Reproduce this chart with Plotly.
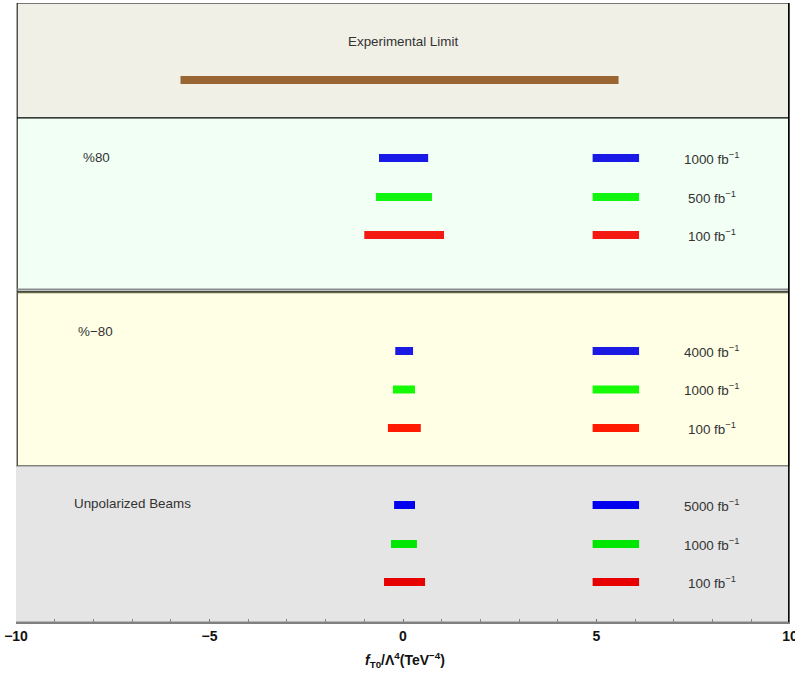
import plotly.graph_objects as go

# ---- data -------------------------------------------------------------
exp_limit = [-5.75, 5.57]

panel_titles = ["%80", "%\u221280", "Unpolarized Beams"]
luminosities = [
    ["1000", "500", "100"],
    ["4000", "1000", "100"],
    ["5000", "1000", "100"],
]
lower = [
    [-0.62, -0.70, -1.00],
    [-0.20, -0.26, -0.39],
    [-0.23, -0.31, -0.49],
]
upper = [
    [0.65, 0.75, 1.06],
    [0.26, 0.31, 0.46],
    [0.31, 0.36, 0.57],
]
legend_span = [4.9, 6.1]
major_ticks = [-10, -5, 0, 5, 10]
major_labels = ["\u221210", "\u22125", "0", "5", "10"]

# ---- styling / layout -------------------------------------------------
panel_colors = [
    ["#1a1ae6", "#11f511", "#f41a12"],
    ["#1a1ae2", "#15fa05", "#ff1a00"],
    ["#0000ee", "#00e600", "#e60000"],
]
band_fill = ["#f1f0e6", "#f2fff4", "#ffffe6", "#e5e5e5"]
bands = [(0, 115), (115, 289), (289, 463), (463, 619)]   # vertical extent (px from top)
row_y = [[155, 194, 232], [348, 386.5, 425], [502, 541, 579]]
title_y = [154, 328, 500]
title_x = [-8.33, -8.45, -8.56]
exp_row, exp_title_row = 77, 38
lum_label_x = 7.98
txt_font = dict(family="Liberation Sans, Arial, sans-serif", size=13.4, color="#333333")
x_right = 9.97

fig = go.Figure()

# background bands
shapes = []
for i, ((y0, y1), fc) in enumerate(zip(bands, band_fill)):
    shapes.append(dict(type="rect", xref="x", yref="y", x0=-10.05 if i == 3 else -9.97,
                       x1=x_right, y0=y0, y1=y1, fillcolor=fc, layer="below",
                       line=dict(color="#888888" if i == 3 else "#000000", width=1)))
# double separator between polarised panels
shapes.append(dict(type="line", xref="x", yref="y", x0=-9.97, x1=x_right, y0=286.5, y1=286.5,
                   line=dict(color="#8a8a8a", width=2)))
shapes.append(dict(type="line", xref="x", yref="y", x0=-9.97, x1=x_right, y0=289.5, y1=289.5,
                   line=dict(color="#66664a", width=1.5)))
shapes.append(dict(type="line", xref="x", yref="y", x0=-10.05, x1=-10.05, y0=463, y1=619,
                   line=dict(color="#999999", width=2)))
shapes.append(dict(type="line", xref="x", yref="y", x0=x_right, x1=x_right, y0=0, y1=619,
                   line=dict(color="#000000", width=1.5)))

# experimental limit
fig.add_trace(go.Scatter(x=exp_limit, y=[exp_row, exp_row], mode="lines",
                         line=dict(color="#996633", width=8), hoverinfo="skip"))
annotations = [dict(x=0, y=exp_title_row, xref="x", yref="y", text="Experimental Limit",
                    showarrow=False, font=txt_font, xanchor="center", yanchor="middle")]

for p in range(3):
    annotations.append(dict(x=title_x[p], y=title_y[p], xref="x", yref="y",
                            text=panel_titles[p], showarrow=False, font=txt_font,
                            xanchor="left", yanchor="middle"))
    for r in range(3):
        c = panel_colors[p][r]
        y = row_y[p][r]
        fig.add_trace(go.Scatter(x=[lower[p][r], upper[p][r]], y=[y, y], mode="lines",
                                 line=dict(color=c, width=8), hoverinfo="skip"))
        fig.add_trace(go.Scatter(x=legend_span, y=[y, y], mode="lines",
                                 line=dict(color=c, width=8), hoverinfo="skip"))
        annotations.append(dict(x=lum_label_x, y=y, xref="x", yref="y",
                                text=f"{luminosities[p][r]} fb<sup>\u22121</sup>",
                                showarrow=False, font=txt_font,
                                xanchor="center", yanchor="middle"))

annotations.append(dict(x=0.05, y=-0.061, xref="x", yref="paper",
                        text="<b><i>f</i><sub>T0</sub>/\u039b<sup>4</sup>(TeV<sup>\u22124</sup>)</b>",
                        showarrow=False, xanchor="center", yanchor="middle",
                        font=dict(family="Liberation Sans, Arial, sans-serif", size=14, color="#111111")))

fig.update_layout(
    width=795, height=673,
    margin=dict(l=16, r=5, t=3, b=51, autoexpand=False),
    paper_bgcolor="white", plot_bgcolor="white",
    showlegend=False,
    shapes=shapes, annotations=annotations,
    xaxis=dict(range=[-10.0005, 10.0005], tickvals=major_ticks,
               ticktext=[f"<b>{t}</b>" for t in major_labels],
               tickfont=dict(family="Liberation Sans, Arial, sans-serif", size=14, color="#111111"),
               ticklabeloverflow="allow", automargin=False,
               showgrid=False, zeroline=False, showline=True, linecolor="#808080", linewidth=2,
               ticks="inside", ticklen=3, tickcolor="#777777",
               minor=dict(dtick=1, ticks="inside", ticklen=3, tickcolor="#888888", showgrid=False),
               fixedrange=True),
    yaxis=dict(range=[619, 0], visible=False, showgrid=False, zeroline=False, fixedrange=True),
)

fig.write_html("out.html")
